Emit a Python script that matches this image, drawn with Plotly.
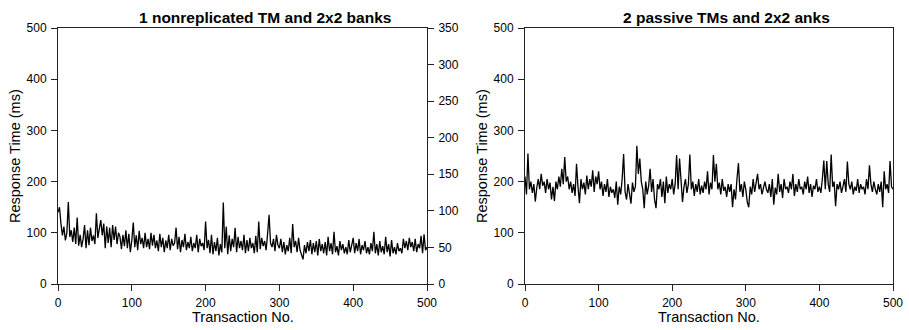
import plotly.graph_objects as go

x_vals = list(range(0, 501, 2))

left_rt = [
    140,150,118,95,112,85,100,160,92,105,
    82,110,78,130,75,96,72,88,115,70,
    105,76,110,84,95,78,138,90,108,125,
    95,118,70,112,80,110,72,115,86,112,
    78,100,92,68,96,74,105,70,98,62,
    85,120,72,95,66,104,78,90,70,100,
    72,88,68,100,75,96,70,85,64,98,
    72,90,62,85,70,96,66,88,75,80,
    110,68,92,62,86,72,98,66,82,70,
    92,64,80,70,96,62,88,74,80,66,
    122,70,86,60,96,58,82,64,90,56,
    78,62,159,70,112,58,95,64,88,72,
    110,62,92,70,84,66,96,60,86,64,
    90,70,80,60,94,62,122,68,90,74,
    84,66,98,135,80,72,88,64,96,76,
    70,88,62,82,58,76,64,90,60,117,
    72,84,62,90,66,58,48,76,60,82,
    64,86,58,80,62,84,56,88,64,78,
    60,82,56,92,64,80,58,102,62,74,
    56,84,66,78,60,72,58,86,62,76,
    90,60,80,64,88,58,76,66,84,60,
    72,58,80,64,102,60,78,56,84,62,
    74,58,92,62,78,54,86,60,72,58,
    80,64,70,60,88,70,84,66,90,72,
    82,64,88,62,78,70,94,60,97,66,
    72,
]

right_rt = [
    210,175,255,185,200,178,195,161,188,205,
    185,215,192,200,178,205,185,198,165,190,
    162,200,185,210,190,225,195,248,200,210,
    185,200,178,195,172,235,190,158,205,185,
    198,175,212,185,205,190,222,180,210,195,
    220,185,200,172,195,180,205,170,190,178,
    185,168,200,155,190,175,205,254,180,165,
    195,175,157,198,180,190,270,215,245,200,
    185,148,200,175,192,225,180,205,165,148,
    195,185,205,170,200,158,210,178,195,185,
    205,175,195,252,185,245,200,160,190,205,
    178,195,253,185,200,172,195,180,205,175,
    192,178,200,185,220,175,198,185,252,200,
    235,185,198,175,205,182,190,170,195,180,
    195,150,185,165,205,236,180,195,170,200,
    185,160,150,190,175,205,180,195,215,185,
    195,175,190,200,185,178,195,170,205,155,
    188,175,215,180,195,168,205,185,190,178,
    200,185,215,172,195,180,205,185,190,175,
    200,185,210,178,195,170,192,185,205,180,
    190,178,205,241,185,240,195,180,253,190,
    200,152,195,185,200,178,190,205,180,239,
    195,185,200,175,190,182,205,178,195,185,
    190,175,205,185,232,195,180,200,185,175,
    195,180,200,150,220,185,195,178,240,190,
    185,
]

left_title = "1 nonreplicated TM and 2x2 banks"
right_title = "2 passive TMs and 2x2 anks"
x_title = "Transaction No."
y_title = "Response Time (ms)"
x_ticks = [0, 100, 200, 300, 400, 500]
y_ticks = [0, 100, 200, 300, 400, 500]
y2_ticks = [0, 50, 100, 150, 200, 250, 300, 350]

W, H = 909, 330
ML, MR, MT, MB = 58, 16, 28, 46
PW = W - ML - MR
PH = H - MT - MB
FONT = "Liberation Sans, Arial, Helvetica, sans-serif"
AXC = "#222222"

def px(v):
    return (v - ML) / PW

def py(v):
    return (H - MB - v) / PH

fig = go.Figure()
fig.add_trace(go.Scatter(x=x_vals, y=left_rt, mode="lines",
                         line=dict(color="black", width=1.3),
                         xaxis="x", yaxis="y", showlegend=False))
fig.add_trace(go.Scatter(x=x_vals, y=right_rt, mode="lines",
                         line=dict(color="black", width=1.3),
                         xaxis="x2", yaxis="y3", showlegend=False))
fig.add_trace(go.Scatter(x=[None], y=[None], xaxis="x", yaxis="y2",
                         showlegend=False, hoverinfo="skip"))

common_ax = dict(showline=True, linecolor=AXC, linewidth=1, ticks="outside",
                 ticklen=6, tickcolor=AXC, showgrid=False, zeroline=False,
                 automargin=False, ticklabelstandoff=2,
                 tickfont=dict(size=12, color="black", family=FONT))

fig.update_layout(
    width=W, height=H,
    margin=dict(l=ML, r=MR, t=MT, b=MB, autoexpand=False),
    paper_bgcolor="white", plot_bgcolor="white",
    font=dict(family=FONT, color="black"),
    xaxis=dict(domain=[px(58), px(427)], range=[0, 500], tickvals=x_ticks,
               mirror=True, anchor="y", **common_ax),
    yaxis=dict(domain=[py(284), py(28)], range=[0, 500], tickvals=y_ticks,
               anchor="x", **common_ax),
    yaxis2=dict(domain=[py(284), py(28)], range=[0, 350], tickvals=y2_ticks,
                overlaying="y", side="right", anchor="x", **common_ax),
    xaxis2=dict(domain=[px(525), px(893)], range=[0, 500], tickvals=x_ticks,
                mirror=True, anchor="y3", **common_ax),
    yaxis3=dict(domain=[py(284), py(28)], range=[0, 500], tickvals=y_ticks,
                mirror=True, anchor="x2", **common_ax),
)

def text(t, x, y, size, angle=0):
    fig.add_annotation(text=t, x=px(x), y=py(y), xref="paper", yref="paper",
                       showarrow=False, xanchor="center", yanchor="middle",
                       textangle=angle, font=dict(size=size, color="black"))

text("<b>" + left_title + "</b>", 265, 17, 15.5)
text("<b>" + right_title + "</b>", 726, 17, 15.5)
text(x_title, 242.5, 317, 14.5)
text(x_title, 709, 317, 14.5)
text(y_title, 15, 156, 14.5, -90)
text(y_title, 482, 156, 14.5, -90)

fig.write_html("out.html", config={"displayModeBar": False},
               post_script="document.body.style.margin='0';")
